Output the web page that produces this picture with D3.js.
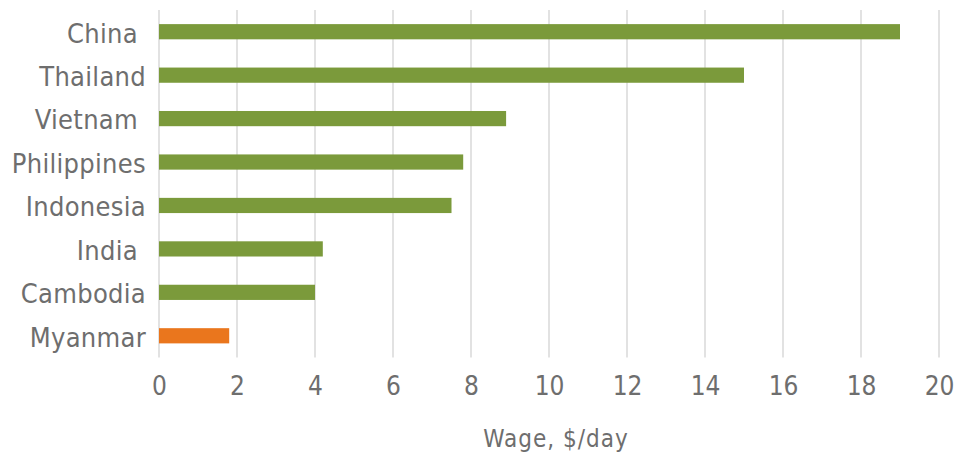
<!DOCTYPE html>
<html>
<head>
<meta charset="utf-8">
<script src="https://cdn.jsdelivr.net/npm/d3@7/dist/d3.min.js"></script>
<style>
  html, body { margin: 0; padding: 0; background: #fff; }
  svg text { font-family: "DejaVu Sans Condensed", "DejaVu Sans", sans-serif; font-stretch: condensed; fill: #6e6e6e; white-space: pre; }
</style>
</head>
<body>
<svg id="chart" width="959" height="457"></svg>
<script>
// Daily minimum wage by country, US$ per day
const countries = ["China ", "Thailand", "Vietnam ", "Philippines", "Indonesia", "India ", "Cambodia", "Myanmar"];
const wages = [19.0, 15.0, 8.9, 7.8, 7.5, 4.2, 4.0, 1.8];
const highlight = ["Myanmar"];
const xTicks = [0, 2, 4, 6, 8, 10, 12, 14, 16, 18, 20];
const xTitle = "Wage, $/day";

const data = countries.map((c, i) => ({ country: c, wage: wages[i] }));

const svg = d3.select("#chart");
const plotTop = 10, plotBottom = 357.5;

const x = d3.scaleLinear().domain([0, 20]).range([159, 939]);
const y = d3.scaleBand().domain(countries).range([plotTop, plotBottom]).paddingInner(0.65).paddingOuter(0.325);

// vertical gridlines
svg.append("g")
  .selectAll("line")
  .data(xTicks)
  .join("line")
  .attr("x1", d => x(d)).attr("x2", d => x(d))
  .attr("y1", plotTop).attr("y2", plotBottom)
  .attr("stroke", "#d9d9d9").attr("stroke-width", 1.5);

// bars
svg.append("g")
  .selectAll("rect")
  .data(data)
  .join("rect")
  .attr("x", x(0))
  .attr("y", d => y(d.country))
  .attr("width", d => x(d.wage) - x(0))
  .attr("height", y.bandwidth())
  .attr("fill", d => highlight.includes(d.country) ? "#ea761d" : "#7b9a3b");

// category axis
const yAxis = svg.append("g")
  .attr("transform", `translate(${x(0) - 13},0)`)
  .call(d3.axisLeft(y).tickSize(0).tickPadding(0));
yAxis.select(".domain").remove();
yAxis.selectAll("text")
  .attr("font-size", 27)
  .attr("letter-spacing", 0.3)
  .attr("dy", "0.4em");

// value axis
const xAxis = svg.append("g")
  .attr("transform", `translate(0,395)`)
  .call(d3.axisBottom(x).tickValues(xTicks).tickSize(0).tickPadding(0));
xAxis.select(".domain").remove();
xAxis.selectAll("text").attr("font-size", 26).attr("dy", 0);

svg.append("text")
  .attr("x", 556)
  .attr("y", 447)
  .attr("text-anchor", "middle")
  .attr("font-size", 24)
  .attr("letter-spacing", 1)
  .text(xTitle);
</script>
</body>
</html>
